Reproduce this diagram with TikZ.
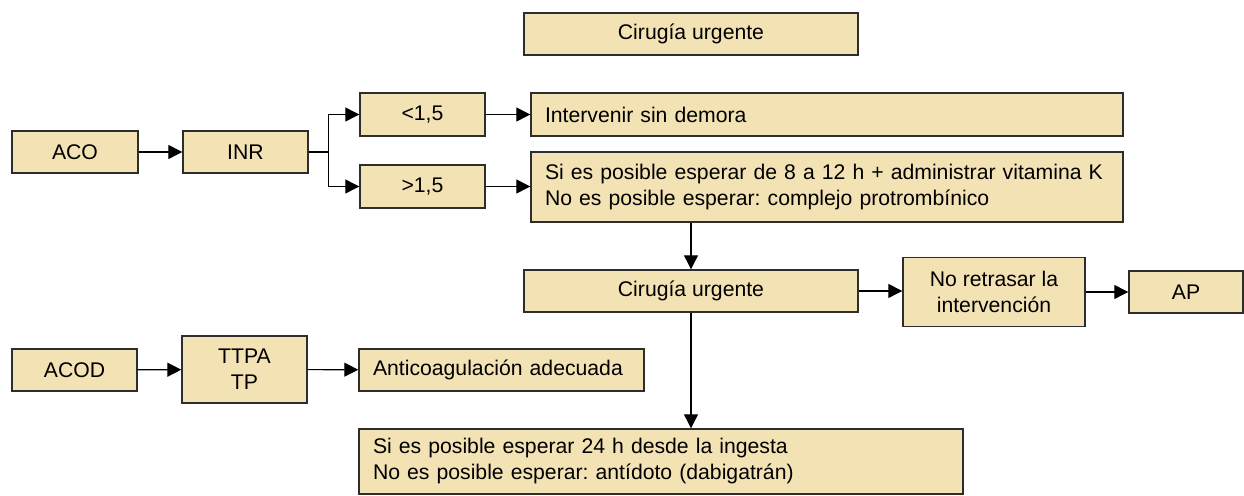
\documentclass[tikz,border=0pt]{standalone}
\usepackage{fontspec}
\setmainfont{Liberation Sans}
\usepackage{xcolor}
\usetikzlibrary{arrows.meta}
\definecolor{boxfill}{RGB}{243,226,180}
\definecolor{boxline}{RGB}{45,45,45}
\frenchspacing
\tikzset{%
  tipA/.tip={Triangle[length=7pt,width=7pt]},
  box/.style={draw=boxline, fill=boxfill, line width=.7pt, inner sep=0pt,
    align=center, font=\fontsize{10.6}{13}\selectfont},
  lbox/.style={box, align=left, inner xsep=7pt},
  arr/.style={-tipA, line width=.6pt}
}

\begin{document}
\begin{tikzpicture}[x=.5pt,y=-.5pt]
\useasboundingbox (0,0) rectangle (1244,496);
% upper part: ACO
\node[box, minimum width=167pt, minimum height=21pt] (top) at (691,34) {Cirugía urgente};
\node[box, minimum width=63pt, minimum height=21pt] (aco) at (75,152) {ACO};
\node[box, minimum width=62.5pt, minimum height=21pt] (inr) at (245.5,152) {INR};
\node[box, minimum width=62.5pt, minimum height=21.5pt] (lt) at (422.5,114.5) {<1,5};
\node[box, minimum width=62.5pt, minimum height=21.5pt] (gt) at (422.5,186.5) {>1,5};
\node[lbox, text width=282pt, minimum height=21.5pt] (interv) at (827,114.5) {Intervenir sin demora};
\node[lbox, text width=282pt, minimum height=35pt] (espera) at (827,187)
  {Si es posible esperar de 8 a 12 h + administrar vitamina K\\No es posible esperar: complejo protrombínico};
\node[box, minimum width=167pt, minimum height=21pt] (cir) at (691,291) {Cirugía urgente};
\node[box, minimum width=91pt, minimum height=34.5pt] (noret) at (994,292) {No retrasar la\\intervención};
\node[box, minimum width=57pt, minimum height=21pt] (ap) at (1186,292) {AP};
% lower part: ACOD
\node[box, minimum width=62.5pt, minimum height=21pt] (acod) at (74.5,370) {ACOD};
\node[box, minimum width=62.5pt, minimum height=33.5pt] (ttpa) at (244.5,369.5) {TTPA\\TP};
\node[lbox, text width=128.5pt, minimum height=21pt] (anti) at (501.5,370) {Anticoagulación adecuada};
\node[lbox, text width=288pt, minimum height=32.5pt] (dabi) at (661,461.5)
  {Si es posible esperar 24 h desde la ingesta\\No es posible esperar: antídoto (dabigatrán)};

\draw[arr] (aco) -- (inr);
\draw[line width=.6pt] (inr.east) -- ++(20,0) coordinate (fork);
\draw[arr] (fork) |- (lt);
\draw[arr] (fork) |- (gt);
\draw[arr] (lt.east) -- (lt.east -| interv.west);
\draw[arr] (gt.east) -- (gt.east -| espera.west);
\draw[arr] (cir |- espera.south) -- (cir.north);
\draw[arr] (cir.east) -- (cir.east -| noret.west);
\draw[arr] (noret) -- (ap);
\draw[arr] (cir.south) -- (cir.south |- dabi.north);
\draw[arr] (acod) -- (ttpa);
\draw[arr] (ttpa) -- (anti);
\end{tikzpicture}
\end{document}
